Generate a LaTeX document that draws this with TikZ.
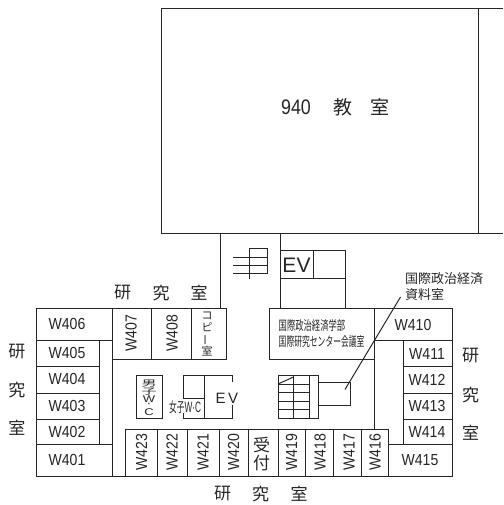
\documentclass[tikz,border=0pt]{standalone}
\usepackage{graphicx}
\usepackage{fontspec}
\setmainfont{Liberation Sans}
\newfontfamily\cjk{Noto Sans CJK JP}
\newcommand{\nar}[1]{\scalebox{.88}[1]{#1}}
\newcommand{\cjs}[3]{{\cjk\fontsize{#1}{#1}\selectfont\scalebox{#2}[1]{#3}}}
\tikzset{
  wall/.style={draw=black!85,line width=1pt},
  lbl/.style={inner sep=0pt,font=\fontsize{16}{17}\selectfont,text=black!85},
  vlbl/.style={lbl,rotate=90},
  big/.style={inner sep=0pt,font=\cjk\fontsize{17}{18}\selectfont,text=black!85},
  small/.style={inner sep=0pt,font=\cjk\fontsize{11}{11}\selectfont,text=black!85},
  note/.style={inner sep=0pt,font=\cjk\fontsize{13}{14}\selectfont,text=black!85,anchor=west},
  thin/.style={inner sep=0pt,text=black!85,anchor=west}
}
\begin{document}
\begin{tikzpicture}[x=1pt,y=-1pt]
\useasboundingbox (0,0) rectangle (503,505);
\fill[white] (0,0) rectangle (503,505);
% big room
\draw[wall] (503,9) -- (161,9) -- (161,233) -- (503,233);
\draw[wall] (478,9) -- (478,233);
\node[lbl,font=\fontsize{21}{22}\selectfont] (t940) at (296,107) {\scalebox{.85}[1]{940}};
\node[big,font=\cjk\fontsize{19}{20}\selectfont] (tkyo) at (343,107) {教};
\node[big,font=\cjk\fontsize{19}{20}\selectfont] (tshi) at (380,107) {室};
% corridor
\draw[wall] (220,233) -- (220,308);
\draw[wall] (280,233) -- (280,308);
% upper stair
\draw[wall] (249,248) -- (267,248) -- (267,273) -- (233,273);
\draw[wall] (233,257) -- (267,257);
\draw[wall] (233,265) -- (267,265);
\draw[wall] (249,248) -- (249,279);
% upper EV
\draw[wall] (280,250) -- (345,250) -- (345,308);
\draw[wall] (280,278) -- (345,278);
\draw[wall] (313,250) -- (313,278);
\node[lbl,font=\fontsize{21}{22}\selectfont] (ev1) at (296.5,265) {EV};
% outline
\draw[wall] (226,308) -- (36,308) -- (36,476) -- (452,476) -- (452,308) -- (269,308);
% west rooms
\draw[wall] (112,308) -- (112,476);
\draw[wall] (36,340) -- (112,340);
\draw[wall] (36,366) -- (99,366);
\draw[wall] (36,393) -- (99,393);
\draw[wall] (36,419) -- (99,419);
\draw[wall] (36,444) -- (112,444);
\draw[wall] (99,340) -- (99,444);
\node[lbl] (w406) at (67,324) {\nar{W406}};
\node[lbl] (w405) at (67,353) {\nar{W405}};
\node[lbl] (w404) at (67,379) {\nar{W404}};
\node[lbl] (w403) at (67,406) {\nar{W403}};
\node[lbl] (w402) at (67,432) {\nar{W402}};
\node[lbl] (w401) at (67,460) {\nar{W401}};
% north rooms
\draw[wall] (112,359) -- (226,359) -- (226,308);
\draw[wall] (151,308) -- (151,359);
\draw[wall] (191,308) -- (191,359);
\node[vlbl] (w407) at (131,333.5) {\nar{W407}};
\node[vlbl] (w408) at (172,333.5) {\nar{W408}};
\node[small] (k1) at (207,316) {コ};
\node[small] (k2) at (207,327) {ピ};
\node[small,rotate=90] (k3) at (207,340) {ー};
\node[small] (k4) at (207,351) {室};
% meeting room
\draw[wall] (269,308) -- (269,359) -- (374,359);
\draw[wall] (374,308) -- (374,429);
\node[thin] (m1) at (278.5,326) {\cjs{13}{.64}{国際政治経済学部}};
\node[thin] (m2) at (278.5,341.5) {\cjs{13}{.6}{国際研究センター会議室}};
% east rooms
\draw[wall] (374,340) -- (452,340);
\draw[wall] (403,366) -- (452,366);
\draw[wall] (403,393) -- (452,393);
\draw[wall] (403,419) -- (452,419);
\draw[wall] (388,444) -- (452,444);
\draw[wall] (403,340) -- (403,444);
\node[lbl] (w410) at (413,325) {\nar{W410}};
\node[lbl] (w411) at (427,354) {\nar{W411}};
\node[lbl] (w412) at (427,380) {\nar{W412}};
\node[lbl] (w413) at (427,406) {\nar{W413}};
\node[lbl] (w414) at (427,432) {\nar{W414}};
\node[lbl] (w415) at (420,460) {\nar{W415}};
% south rooms
\draw[wall] (125,429) -- (388,429) -- (388,476);
\foreach \x in {125,157,187.5,219,248,278,305,333,361} \draw[wall] (\x,429) -- (\x,476);
\node[vlbl] (w423) at (141.5,452.5) {\nar{W423}};
\node[vlbl] (w422) at (172,452.5) {\nar{W422}};
\node[vlbl] (w421) at (203,452.5) {\nar{W421}};
\node[vlbl] (w420) at (233.5,452.5) {\nar{W420}};
\node[big] (u1) at (261.5,445) {受};
\node[big] (u2) at (261.5,463) {付};
\node[vlbl] (w419) at (291.5,452.5) {\nar{W419}};
\node[vlbl] (w418) at (320,452.5) {\nar{W418}};
\node[vlbl] (w417) at (349,452.5) {\nar{W417}};
\node[vlbl] (w416) at (375,452.5) {\nar{W416}};
% male WC
\draw[wall] (136,375) rectangle (162,418);
\node[inner sep=0pt,text=black!85] (d1) at (149,383.5) {\scalebox{1}[.55]{\cjk\fontsize{15}{15}\selectfont 男}};
\node[inner sep=0pt,text=black!85] (d2) at (149,391.5) {\scalebox{1}[.55]{\cjk\fontsize{15}{15}\selectfont 子}};
\node[inner sep=0pt,text=black!85,align=center,font=\fontsize{13}{5.5}\selectfont] (d3) at (149,405.5) {\scalebox{1}[.75]{W}\\·\\\scalebox{1}[.75]{C}};
% female WC and EV
\draw[wall] (183,398) -- (183,375) -- (232,375) -- (232,382);
\draw[wall] (232,405) -- (232,418) -- (183,418) -- (183,413);
\draw[wall] (183,398) -- (204.5,398);
\draw[wall] (204.5,375) -- (204.5,418);
\node[inner sep=0pt,fill=white,text=black!85,anchor=west] (f1) at (169,407) {\cjs{14}{.55}{女子}};
\node[inner sep=0pt,fill=white,text=black!85,anchor=west] (f2) at (184.5,407) {\scalebox{.55}[1]{\fontsize{15}{15}\selectfont W·C}};
\node[lbl,font=\fontsize{15}{16}\selectfont,fill=white,inner xsep=1pt] (ev3) at (227,398) {E\,V};
% lower stair
\draw[wall] (278,375) rectangle (309,418);
\draw[wall] (293.5,375) -- (293.5,418);
\draw[wall] (278,384) -- (309,384);
\draw[wall] (278,392.5) -- (309,392.5);
\draw[wall] (278,401) -- (309,401);
\draw[wall] (278,409.5) -- (309,409.5);
\draw[wall] (278,384) -- (293.5,377);
\draw[wall] (309,375) rectangle (318,418);
\draw[wall] (318,382.5) -- (350,382.5) -- (350,405.5) -- (318,405.5);
% leader
\coordinate (la) at (345,389.5);
\coordinate (lb) at (400.5,297);
\draw[wall] (la) -- (lb);
\node[note] (n1) at (405,279) {国際政治経済};
\node[note] (n2) at (405,294.5) {資料室};
% outside labels
\node[big] (a1) at (122.5,293) {研};
\node[big] (a2) at (161,293) {究};
\node[big] (a3) at (199,293) {室};
\node[big] (b1) at (17,352) {研};
\node[big] (b2) at (17,390) {究};
\node[big] (b3) at (17,428) {室};
\node[big] (c1) at (470.5,356) {研};
\node[big] (c2) at (470.5,395) {究};
\node[big] (c3) at (470.5,433) {室};
\node[big] (e1) at (222.5,494) {研};
\node[big] (e2) at (260.5,494) {究};
\node[big] (e3) at (299,494) {室};
\end{tikzpicture}
\end{document}
